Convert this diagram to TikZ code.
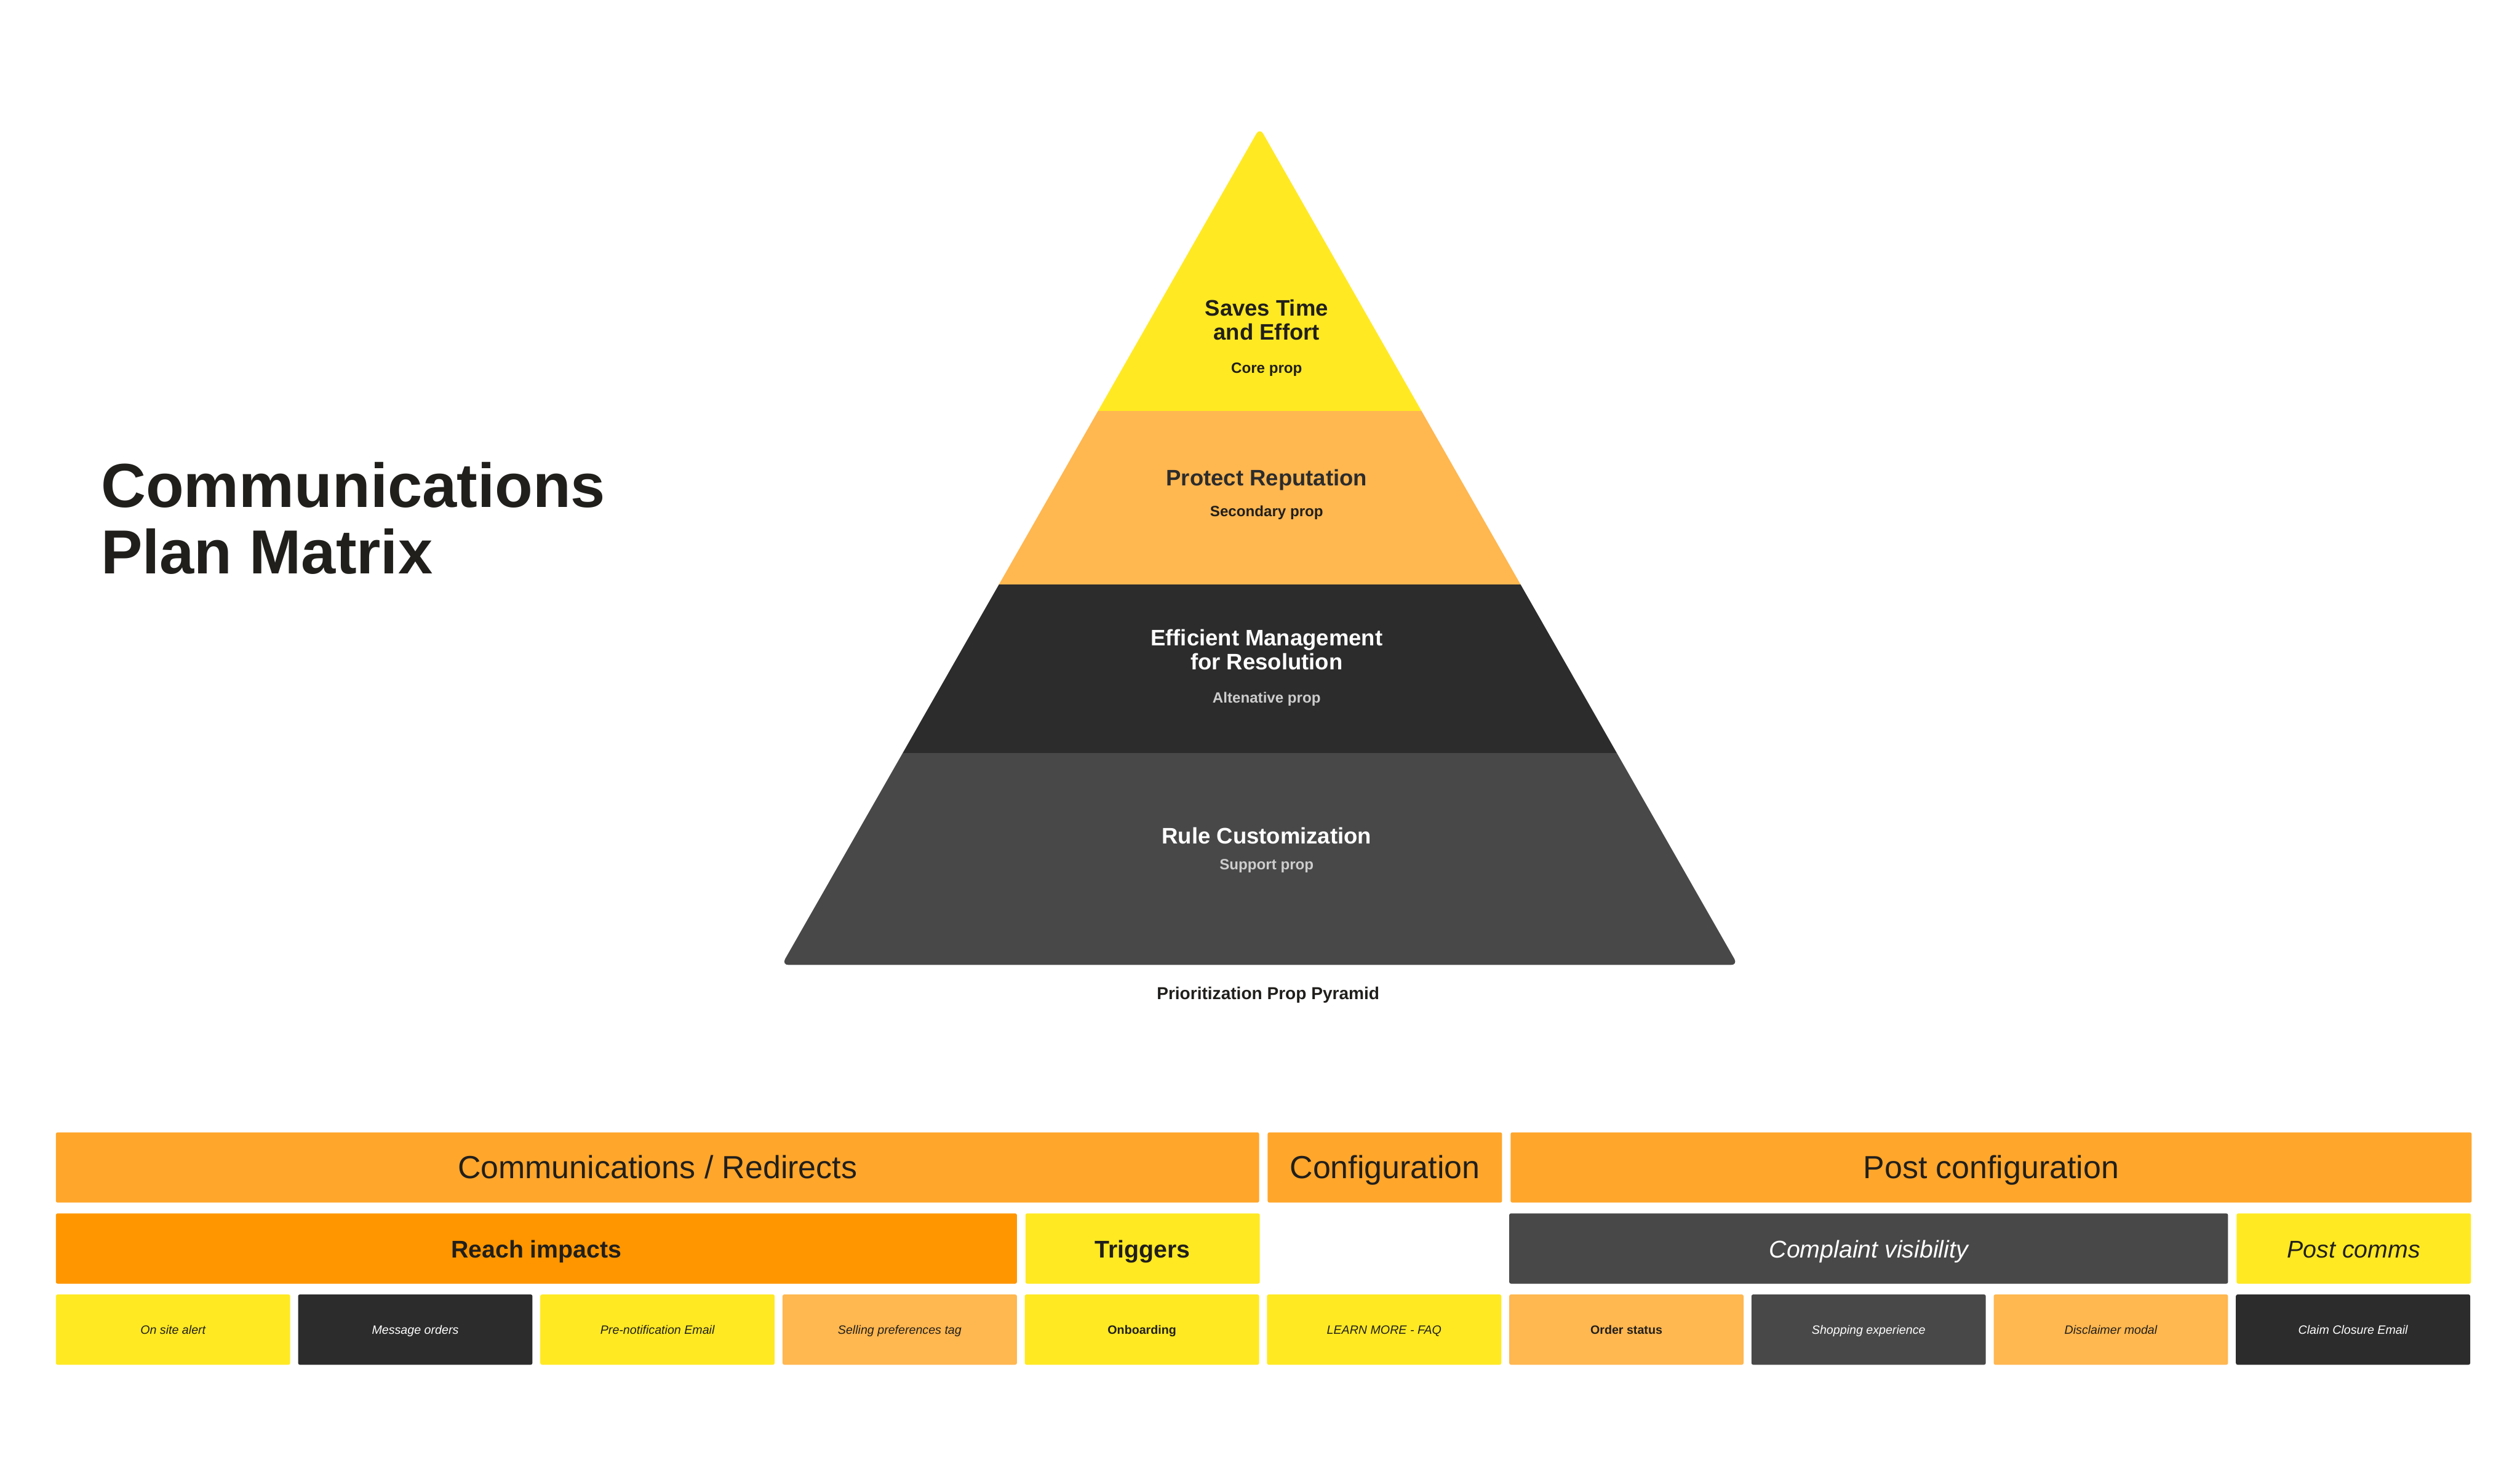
\documentclass[tikz,border=0pt]{standalone}
\usepackage{fontspec}
\setmainfont{Liberation Sans}
\usetikzlibrary{positioning}
\definecolor{ink}{RGB}{33,31,28}
\definecolor{sunyellow}{RGB}{255,233,35}
\definecolor{paleorange}{RGB}{255,183,80}
\definecolor{headorange}{RGB}{255,166,43}
\definecolor{deeporange}{RGB}{255,150,0}
\definecolor{charcoal}{RGB}{44,44,44}
\definecolor{slate}{RGB}{72,72,72}
\definecolor{softgrey}{RGB}{205,205,205}

\tikzset{
  pyrtitle/.style={font=\fontsize{13}{14}\selectfont\bfseries, align=center, inner sep=0pt},
  pyrprop/.style={font=\fontsize{8.6}{10}\selectfont\bfseries, inner sep=0pt},
  cell/.style={anchor=north west, inner sep=0pt, rounded corners=1pt, minimum height=1.43cm, align=center, text=ink},
  headcell/.style={cell, fill=headorange, font=\fontsize{18.5}{22}\selectfont, text height=17pt, text depth=4pt},
  groupcell/.style={cell, font=\fontsize{14}{17}\selectfont, text height=13.5pt, text depth=3pt},
  itemcell/.style={cell, minimum width=4.77cm, font=\fontsize{7}{8}\selectfont\itshape, text height=6.8pt, text depth=1.5pt},
  itemlight/.style={text=ink},
  itemdark/.style={text=white},
  itembold/.style={text=ink, font=\fontsize{7}{8}\selectfont\bfseries},
}

\begin{document}
\begin{tikzpicture}[x=1cm, y=-1cm]
\useasboundingbox (0,0) rectangle (51.29,29.94);

% title
\node[anchor=west, align=left, inner sep=0pt, text=ink,
      font=\fontsize{36}{38.5}\selectfont\bfseries] (title) at (2.05,10.55)
  {Communications\\Plan Matrix};

% pyramid tiers
\begin{scope}
  \clip[rounded corners=4pt] (25.64,2.6) -- (15.91,19.64) -- (35.37,19.64) -- cycle;
  \foreach \top/\bot/\col in {2.5/8.36/sunyellow, 8.36/11.90/paleorange,
                              11.90/15.33/charcoal, 15.33/19.8/slate}
    \fill[\col] (15.5,\top) rectangle (35.8,\bot);
\end{scope}

\node[pyrtitle, text=ink] (savestitle) at (25.78,6.51) {Saves Time\\and Effort};
\node[pyrprop, text=ink] (savesprop) at (25.78,7.52) {Core prop};
\node[pyrtitle, text=charcoal] (protecttitle) at (25.78,9.77) {Protect Reputation};
\node[pyrprop, text=ink] (protectprop) at (25.78,10.43) {Secondary prop};
\node[pyrtitle, text=white] (effictitle) at (25.78,13.22) {Efficient Management\\for Resolution};
\node[pyrprop, text=softgrey] (efficprop) at (25.78,14.23) {Altenative prop};
\node[pyrtitle, text=white] (ruletitle) at (25.78,17.01) {Rule Customization};
\node[pyrprop, text=softgrey] (ruleprop) at (25.78,17.62) {Support prop};

\node[inner sep=0pt, text=ink, font=\fontsize{10}{12}\selectfont\bfseries] (pyrcaption)
  at (25.81,20.25) {Prioritization Prop Pyramid};

% matrix: phases
\node[headcell, minimum width=24.49cm] (comms) at (1.13,23.04) {Communications / Redirects};
\node[headcell, minimum width=4.77cm, right=0.16cm of comms] (config) {Configuration};
\node[headcell, minimum width=19.56cm, right=0.16cm of config] (postconfig) {Post configuration};

% matrix: groups
\node[groupcell, fill=deeporange, minimum width=19.56cm, font=\fontsize{14}{17}\selectfont\bfseries]
  (reach) at (1.13,24.69) {Reach impacts};
\node[groupcell, fill=sunyellow, minimum width=4.77cm, font=\fontsize{14}{17}\selectfont\bfseries,
      right=0.16cm of reach] (triggers) {Triggers};
\node[groupcell, fill=slate, text=white, minimum width=14.63cm, font=\fontsize{14}{17}\selectfont\itshape]
  (complaint) at (30.71,24.69) {Complaint visibility};
\node[groupcell, fill=sunyellow, minimum width=4.77cm, font=\fontsize{14}{17}\selectfont\itshape,
      right=0.16cm of complaint] (postcomms) {Post comms};

% matrix: items
\foreach \name/\col/\look/\txt [count=\i from 0] in {
    onsite/sunyellow/itemlight/On site alert,
    msgorders/charcoal/itemdark/Message orders,
    prenotif/sunyellow/itemlight/Pre-notification Email,
    sellpref/paleorange/itemlight/Selling preferences tag,
    onboard/sunyellow/itembold/Onboarding,
    faq/sunyellow/itemlight/LEARN MORE - FAQ,
    orderstatus/paleorange/itembold/Order status,
    shopping/slate/itemdark/Shopping experience,
    disclaimer/paleorange/itemlight/Disclaimer modal,
    closure/charcoal/itemdark/Claim Closure Email}
{
  \pgfmathsetmacro\cx{1.13+4.93*\i}
  \node[itemcell, fill=\col, \look] (\name) at (\cx,26.34) {\txt};
}
\end{tikzpicture}
\end{document}
